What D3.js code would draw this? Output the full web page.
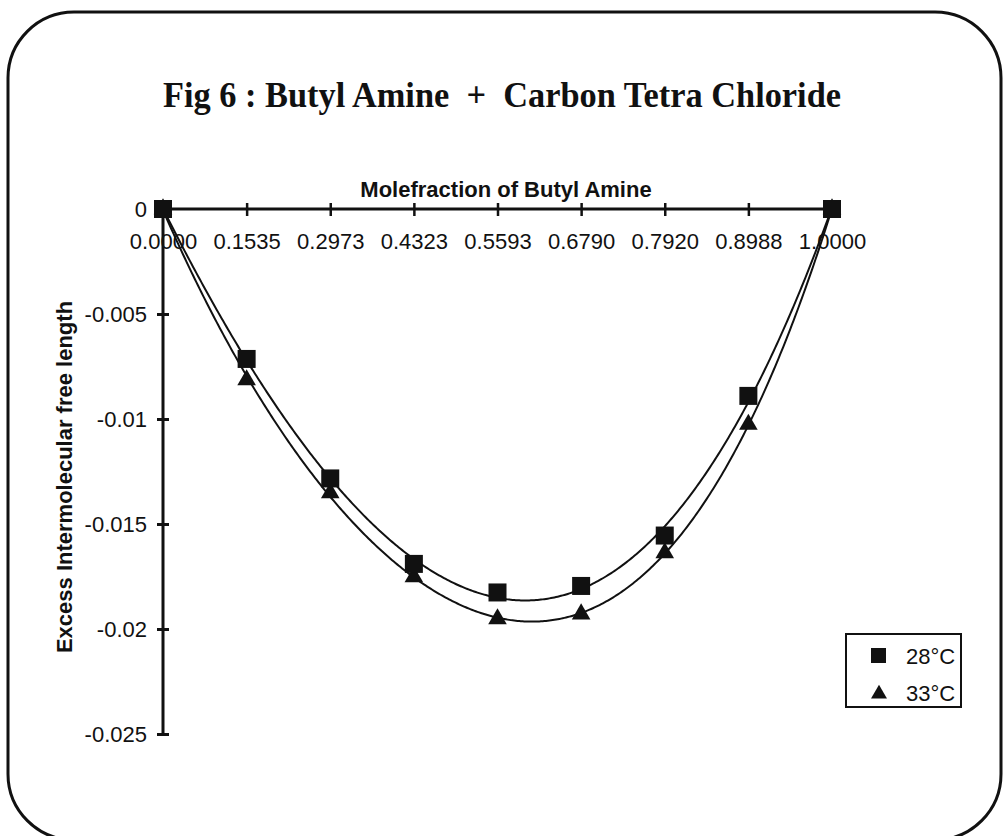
<!DOCTYPE html>
<html>
<head>
<meta charset="utf-8">
<script src="https://cdn.jsdelivr.net/npm/d3@7/dist/d3.min.js"></script>
<style>
  html, body { margin: 0; padding: 0; background: #fff; }
  svg { display: block; }
</style>
</head>
<body>
<svg id="chart" width="1004" height="836"></svg>
<script>
// Mole fraction of butyl amine (category labels along the top axis)
const moleFractions = ["0.0000", "0.1535", "0.2973", "0.4323", "0.5593", "0.6790", "0.7920", "0.8988", "1.0000"];
// Excess intermolecular free length at each temperature
const lf28 = [0, -0.00714, -0.01283, -0.0169, -0.01826, -0.01795, -0.01555, -0.0089, 0];
const lf33 = [0, -0.00814, -0.01352, -0.01752, -0.01952, -0.01929, -0.01638, -0.01026, 0];
const yTicks = [0, -0.005, -0.01, -0.015, -0.02, -0.025];
const yTickLabels = ["0", "-0.005", "-0.01", "-0.015", "-0.02", "-0.025"];
const seriesNames = ["28°C", "33°C"];
const trendOrder = 4;

const ink = "#111";
const sans = "'Liberation Sans', Arial, sans-serif";
const svg = d3.select("#chart");

// rounded frame
svg.append("rect")
  .attr("x", 8).attr("y", 12).attr("width", 993).attr("height", 828)
  .attr("rx", 66).attr("ry", 66)
  .attr("fill", "#fff").attr("stroke", ink).attr("stroke-width", 3);

svg.append("text")
  .attr("x", 502).attr("y", 107)
  .attr("text-anchor", "middle")
  .attr("font-family", "'Liberation Serif', 'Times New Roman', serif")
  .attr("font-weight", "bold").attr("font-size", 36)
  .attr("textLength", 678).attr("lengthAdjust", "spacingAndGlyphs")
  .attr("fill", ink)
  .attr("xml:space", "preserve")
  .text("Fig 6 : Butyl Amine  +  Carbon Tetra Chloride");

const x = d3.scalePoint().domain(moleFractions).range([163, 832]);
const y = d3.scaleLinear().domain([0, -0.025]).range([209, 734]);
const idx = d3.scaleLinear().domain([0, moleFractions.length - 1]).range([163, 832]);

// y axis
const yAxis = svg.append("g").attr("transform", "translate(163,0)")
  .call(d3.axisLeft(y).tickValues(yTicks).tickFormat((d, i) => yTickLabels[i]).tickSize(6).tickPadding(10));
yAxis.select(".domain").attr("stroke", ink).attr("stroke-width", 3).attr("d", `M0,${y(0)}V${y(-0.025)}`);
yAxis.selectAll(".tick line").attr("stroke", ink).attr("stroke-width", 3).attr("x1", -6).attr("x2", 6);
yAxis.selectAll(".tick text").attr("font-family", sans).attr("font-size", 22).attr("fill", ink)
  .attr("x", -16).attr("dy", "0.35em");

// x axis (category axis drawn at y = 0)
const xAxis = svg.append("g").attr("transform", `translate(0,${y(0)})`)
  .call(d3.axisBottom(x).tickSize(6).tickPadding(8));
xAxis.select(".domain").attr("stroke", ink).attr("stroke-width", 3).attr("d", `M163,0H832`);
xAxis.selectAll(".tick text").attr("font-family", sans).attr("font-size", 22).attr("fill", ink)
  .attr("y", 40).attr("dy", null);
xAxis.selectAll(".tick line").attr("stroke", ink).attr("stroke-width", 2.5).attr("y1", -6).attr("y2", 7)
  .filter((d, i) => i === 0 || i === moleFractions.length - 1).remove();

svg.append("text")
  .attr("x", 506).attr("y", 197).attr("text-anchor", "middle")
  .attr("font-family", sans).attr("font-weight", "bold").attr("font-size", 22).attr("fill", ink)
  .text("Molefraction of Butyl Amine");

svg.append("text")
  .attr("transform", "translate(72,477) rotate(-90)").attr("text-anchor", "middle")
  .attr("font-family", sans).attr("font-weight", "bold").attr("font-size", 22).attr("fill", ink)
  .text("Excess Intermolecular free length");

// least-squares polynomial trendline over category index
function polyfit(vals, order) {
  const n = order + 1;
  const A = Array.from({length: n}, () => new Array(n + 1).fill(0));
  vals.forEach((v, i) => {
    for (let r = 0; r < n; r++) {
      for (let c = 0; c < n; c++) A[r][c] += Math.pow(i + 1, r + c);
      A[r][n] += v * Math.pow(i + 1, r);
    }
  });
  for (let p = 0; p < n; p++) {
    let m = p;
    for (let r = p + 1; r < n; r++) if (Math.abs(A[r][p]) > Math.abs(A[m][p])) m = r;
    [A[p], A[m]] = [A[m], A[p]];
    for (let r = 0; r < n; r++) {
      if (r === p) continue;
      const f = A[r][p] / A[p][p];
      for (let c = p; c <= n; c++) A[r][c] -= f * A[p][c];
    }
  }
  const coef = A.map((row, i) => row[n] / row[i]);
  return t => coef.reduce((s, c, k) => s + c * Math.pow(t + 1, k), 0);
}

const line = d3.line().x(d => idx(d[0])).y(d => y(d[1]));
[lf28, lf33].forEach(vals => {
  const f = polyfit(vals, trendOrder);
  const pts = d3.range(0, moleFractions.length - 1 + 1e-9, 0.02).map(t => [t, f(t)]);
  svg.append("path").attr("d", line(pts)).attr("fill", "none").attr("stroke", ink).attr("stroke-width", 2);
});

// markers: triangles first, squares drawn over them
const tri = d3.symbol().type(d3.symbolTriangle).size(150);
svg.append("g").selectAll("path").data(lf33).join("path")
  .attr("d", tri)
  .attr("transform", (d, i) => `translate(${x(moleFractions[i])},${y(d)})`)
  .attr("fill", ink);

svg.append("g").selectAll("rect").data(lf28).join("rect")
  .attr("x", (d, i) => x(moleFractions[i]) - 9).attr("y", d => y(d) - 9)
  .attr("width", 18).attr("height", 18).attr("fill", ink);

// legend
const lg = svg.append("g");
lg.append("rect").attr("x", 846).attr("y", 634).attr("width", 115).attr("height", 73)
  .attr("fill", "#fff").attr("stroke", ink).attr("stroke-width", 2);
lg.append("rect").attr("x", 871).attr("y", 648).attr("width", 15).attr("height", 15).attr("fill", ink);
lg.append("path").attr("d", d3.symbol().type(d3.symbolTriangle).size(110))
  .attr("transform", "translate(879,694)").attr("fill", ink);
seriesNames.forEach((s, i) => {
  lg.append("text").attr("x", 906).attr("y", 656 + i * 37).attr("dy", "0.36em")
    .attr("font-family", sans).attr("font-size", 22).attr("fill", ink).text(s);
});
</script>
</body>
</html>
